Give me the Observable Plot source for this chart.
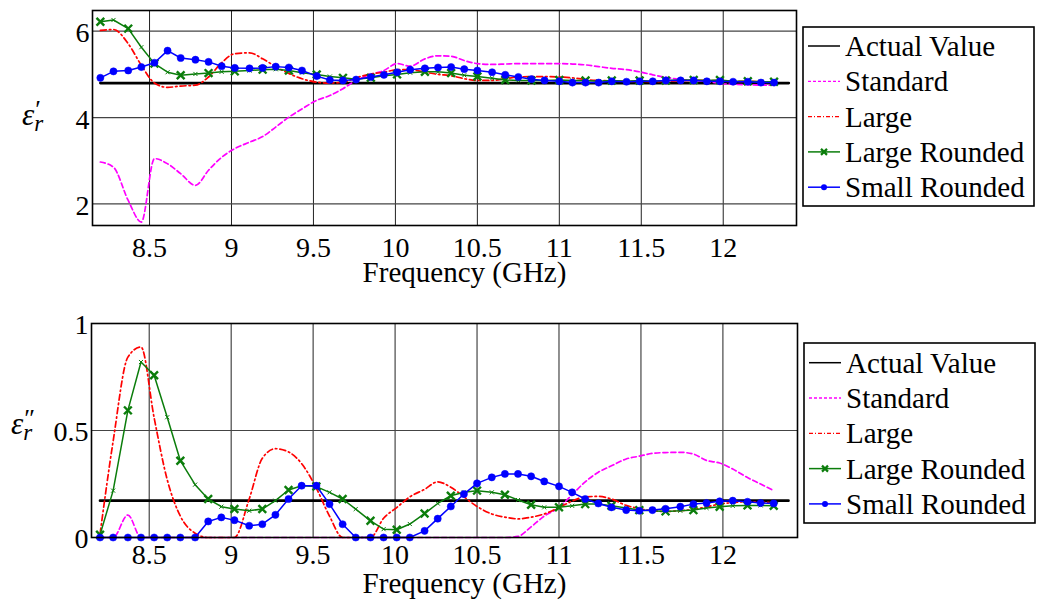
<!DOCTYPE html>
<html><head><meta charset="utf-8">
<script src="https://cdn.jsdelivr.net/npm/d3@7"></script>
<script src="https://cdn.jsdelivr.net/npm/@observablehq/plot@0.6"></script>
<style>
body{margin:0;background:#fff;}
#wrap{position:relative;width:1037px;height:608px;overflow:hidden;background:#fff;}
.panel{position:absolute;left:0;}
#overlay{position:absolute;left:0;top:0;}
</style></head>
<body><div id="wrap"></div>
<script>
// Frequencies (GHz)
const freq = [8.20, 8.28, 8.37, 8.45, 8.53, 8.61, 8.69, 8.78, 8.86, 8.94, 9.02, 9.11, 9.19, 9.27, 9.35, 9.43, 9.52, 9.60, 9.68, 9.76, 9.85, 9.93, 10.01, 10.09, 10.18, 10.26, 10.34, 10.42, 10.50, 10.59, 10.67, 10.75, 10.83, 10.91, 11.00, 11.08, 11.16, 11.24, 11.32, 11.41, 11.49, 11.57, 11.65, 11.74, 11.82, 11.90, 11.98, 12.06, 12.15, 12.23, 12.31];
const actualFreq = [8.2, 12.4];
const xTicks = [8.5, 9, 9.5, 10, 10.5, 11, 11.5, 12];
const seriesNames = ["Actual Value", "Standard", "Large", "Large Rounded", "Small Rounded"];
const xLabel = "Frequency (GHz)";

// Top panel: real part
const actualTop = [4.80, 4.80];
const standardTop = [2.97, 2.85, 2.08, 1.58, 3.05, 2.93, 2.70, 2.43, 2.78, 3.08, 3.28, 3.43, 3.56, 3.78, 4.01, 4.20, 4.40, 4.51, 4.67, 4.86, 5.00, 5.09, 5.25, 5.19, 5.36, 5.43, 5.42, 5.32, 5.25, 5.23, 5.24, 5.25, 5.25, 5.25, 5.25, 5.24, 5.22, 5.18, 5.14, 5.11, 5.06, 4.99, 4.93, 4.88, 4.86, 4.84, 4.79, 4.77, 4.76, 4.75, 4.75];
const largeTop = [6.02, 6.04, 5.71, 5.21, 4.80, 4.70, 4.73, 4.75, 4.94, 5.27, 5.48, 5.50, 5.36, 5.18, 5.02, 4.90, 4.82, 4.80, 4.82, 4.92, 5.01, 5.05, 5.11, 5.11, 5.05, 5.00, 4.97, 4.90, 4.86, 4.86, 4.90, 4.94, 4.95, 4.95, 4.94, 4.92, 4.88, 4.86, 4.85, 4.84, 4.84, 4.83, 4.84, 4.85, 4.86, 4.86, 4.85, 4.84, 4.84, 4.83, 4.82];
const largeRoundedTop = [6.22, 6.26, 6.06, 5.63, 5.25, 5.05, 4.98, 5.01, 5.03, 5.06, 5.07, 5.09, 5.11, 5.12, 5.09, 5.04, 5.00, 4.95, 4.92, 4.89, 4.92, 4.97, 5.00, 5.04, 5.06, 5.06, 5.03, 4.98, 4.95, 4.91, 4.87, 4.86, 4.86, 4.86, 4.87, 4.86, 4.86, 4.84, 4.86, 4.84, 4.86, 4.84, 4.86, 4.87, 4.87, 4.86, 4.87, 4.84, 4.84, 4.83, 4.83];
const smallRoundedTop = [4.92, 5.07, 5.09, 5.17, 5.27, 5.55, 5.38, 5.34, 5.29, 5.19, 5.15, 5.14, 5.15, 5.18, 5.16, 5.09, 4.96, 4.87, 4.86, 4.88, 4.94, 4.99, 5.05, 5.11, 5.14, 5.16, 5.17, 5.12, 5.09, 5.05, 4.99, 4.94, 4.89, 4.86, 4.84, 4.81, 4.81, 4.81, 4.84, 4.83, 4.84, 4.84, 4.86, 4.86, 4.86, 4.84, 4.84, 4.83, 4.83, 4.81, 4.81];
const yTicksTop = [2, 4, 6];

// Bottom panel: imaginary part
const actualBot = [0.172, 0.172];
const standardBot = [0, 0, 0.105, 0, 0, 0, 0, 0, 0, 0, 0, 0, 0, 0, 0, 0, 0, 0, 0, 0, 0, 0, 0, 0, 0, 0, 0, 0, 0, 0, 0, 0.005, 0.05, 0.10, 0.14, 0.20, 0.26, 0.305, 0.335, 0.367, 0.38, 0.393, 0.397, 0.398, 0.39, 0.36, 0.348, 0.32, 0.28, 0.25, 0.219];
const largeBot = [0.016, 0.45, 0.843, 0.89, 0.56, 0.27, 0.10, 0.02, 0, 0, 0, 0.18, 0.37, 0.415, 0.40, 0.345, 0.23, 0.10, 0, 0, 0, 0.09, 0.14, 0.19, 0.225, 0.26, 0.235, 0.19, 0.145, 0.11, 0.095, 0.087, 0.095, 0.11, 0.14, 0.17, 0.19, 0.192, 0.18, 0.15, 0.135, 0.125, 0.122, 0.125, 0.131, 0.143, 0.156, 0.163, 0.167, 0.165, 0.163];
const largeRoundedBot = [0.013, 0.219, 0.594, 0.82, 0.758, 0.562, 0.359, 0.247, 0.180, 0.144, 0.133, 0.125, 0.133, 0.172, 0.222, 0.242, 0.238, 0.211, 0.180, 0.133, 0.078, 0.039, 0.036, 0.063, 0.112, 0.159, 0.195, 0.211, 0.219, 0.211, 0.20, 0.175, 0.153, 0.141, 0.141, 0.148, 0.156, 0.156, 0.148, 0.138, 0.128, 0.125, 0.122, 0.125, 0.128, 0.138, 0.144, 0.148, 0.15, 0.15, 0.148];
const smallRoundedBot = [0, 0, 0, 0, 0, 0, 0, 0, 0.075, 0.094, 0.081, 0.055, 0.062, 0.106, 0.180, 0.242, 0.242, 0.156, 0.062, 0, 0, 0, 0, 0, 0.031, 0.088, 0.145, 0.203, 0.253, 0.281, 0.297, 0.297, 0.286, 0.262, 0.239, 0.211, 0.180, 0.159, 0.141, 0.128, 0.125, 0.128, 0.134, 0.144, 0.156, 0.161, 0.169, 0.172, 0.167, 0.161, 0.159];
const yTicksBot = [0, 0.5, 1];

const colors = {actual: "#000000", standard: "#ff00ff", large: "#ff0000", largeRounded: "#0b7d0b", smallRounded: "#0000ff"};

// ---- pick an installed serif font (reference uses a Times-like face) ----
const ctx = document.createElement("canvas").getContext("2d");
function textWidth(font, size, s) { ctx.font = `${size}px ${font}`; return ctx.measureText(s).width; }
function installed(name) {
  const s = "Frequency (GHz) Actual Value Rounded 0123456789";
  return textWidth(`"${name}", monospace`, 40, s) !== textWidth("monospace", 40, s) ||
         textWidth(`"${name}", sans-serif`, 40, s) !== textWidth("sans-serif", 40, s);
}
const serifCandidates = ["Liberation Serif", "Tinos", "Times New Roman", "Times", "Nimbus Roman", "Nimbus Roman No9 L", "DejaVu Serif", "Noto Serif", "FreeSerif", "Georgia"];
const found = serifCandidates.find(installed);
const FONT = found ? `"${found}", serif` : "serif";
// scale font sizes so the axis title spans the same width as in the reference (~204 px)
const K = Math.max(0.7, Math.min(1.15, 204 / textWidth(FONT, 29, xLabel)));
const FS = 28 * K, FL = 29 * K;

function rows(xs, ys) { return xs.map((x, i) => ({x, y: ys[i], i})); }

function panel(opts) {
  const act = rows(actualFreq, opts.actual);
  const std = rows(freq, opts.standard);
  const lrg = rows(freq, opts.large);
  const lr = rows(freq, opts.largeRounded);
  const sr = rows(freq, opts.smallRounded);
  const fmt = d3.format("~g");
  return Plot.plot({
    width: 800, height: opts.height,
    marginTop: opts.mt, marginBottom: opts.mb, marginLeft: opts.ml, marginRight: opts.mr,
    style: {fontFamily: FONT, fontSize: `${FS}px`, color: "#000", background: "transparent"},
    x: {domain: opts.xDomain},
    y: {domain: opts.yDomain},
    marks: [
      Plot.gridX(xTicks, {stroke: "#222", strokeOpacity: 1, strokeWidth: 1}),
      Plot.gridY(opts.yTicks, {stroke: "#444", strokeOpacity: 1, strokeWidth: 1.2}),
      Plot.line(act, {x: "x", y: "y", stroke: colors.actual, strokeWidth: 2.7}),
      Plot.line(std, {x: "x", y: "y", stroke: colors.standard, strokeWidth: 1.7, strokeDasharray: "5,3", curve: "monotone-x"}),
      Plot.line(lrg, {x: "x", y: "y", stroke: colors.large, strokeWidth: 1.7, strokeDasharray: "6,3,1.5,3", curve: "monotone-x"}),
      Plot.line(lr, {x: "x", y: "y", stroke: colors.largeRounded, strokeWidth: 1.5}),
      Plot.dot(lr.filter(d => d.i % 2 === 0), {x: "x", y: "y", symbol: "times", r: 3.6, stroke: colors.largeRounded, strokeWidth: 2.4}),
      Plot.dot(lr.filter(d => d.i % 2 === 1), {x: "x", y: "y", symbol: "times", r: 2, stroke: colors.largeRounded, strokeWidth: 1}),
      Plot.line(sr, {x: "x", y: "y", stroke: colors.smallRounded, strokeWidth: 1.5}),
      Plot.dot(sr, {x: "x", y: "y", r: 3.6, fill: colors.smallRounded, stroke: colors.smallRounded, strokeWidth: 0.5}),
      Plot.frame({stroke: "#000", strokeWidth: 1.6}),
      Plot.axisX(xTicks, {tickSize: 0, tickPadding: opts.xPad, tickFormat: fmt, label: null, fontSize: FS, fontFamily: FONT}),
      Plot.axisY(opts.yTicks, {tickSize: 0, tickPadding: 3, tickFormat: fmt, label: null, fontSize: FS, dy: 2, fontFamily: FONT}),
      Plot.text([xLabel], {text: d => d, frameAnchor: "bottom", lineAnchor: "bottom", dx: 20, dy: opts.labelDy, fontSize: FL, fill: "#000", fontFamily: FONT})
    ]
  });
}

const wrap = document.getElementById("wrap");

const topChart = panel({height: 300, mt: 10, mb: 75, ml: 92, mr: 4, xDomain: [8.152, 12.447], yDomain: [1.5, 6.48], yTicks: yTicksTop, xPad: 12, labelDy: 56,
  actual: actualTop, standard: standardTop, large: largeTop, largeRounded: largeRoundedTop, smallRounded: smallRoundedTop});
const d1 = document.createElement("div"); d1.className = "panel"; d1.style.top = "0px"; d1.appendChild(topChart); wrap.appendChild(d1);

const botChart = panel({height: 308, mt: 23, mb: 71, ml: 91, mr: 3, xDomain: [8.148, 12.455], yDomain: [0, 1], yTicks: yTicksBot, xPad: 7, labelDy: 55,
  actual: actualBot, standard: standardBot, large: largeBot, largeRounded: largeRoundedBot, smallRounded: smallRoundedBot});
const d2 = document.createElement("div"); d2.className = "panel"; d2.style.top = "300px"; d2.appendChild(botChart); wrap.appendChild(d2);

// Overlay: legends and y labels
const svg = d3.select(wrap).append("svg").attr("id", "overlay").attr("width", 1037).attr("height", 608)
  .attr("font-family", FONT);

const styles = [
  {stroke: colors.actual, dash: null, w: 1.5, marker: null},
  {stroke: colors.standard, dash: "3,2", w: 1.3, marker: null},
  {stroke: colors.large, dash: "4,2,1,2", w: 1.3, marker: null},
  {stroke: colors.largeRounded, dash: null, w: 1.5, marker: "x"},
  {stroke: colors.smallRounded, dash: null, w: 1.5, marker: "o"}
];

function legend(x, y, w, h, base0, step) {
  const g = svg.append("g");
  g.append("rect").attr("x", x).attr("y", y).attr("width", w).attr("height", h)
    .attr("fill", "#fff").attr("stroke", "#000").attr("stroke-width", 1.6);
  seriesNames.forEach((name, k) => {
    const base = base0 + k * step;
    const ly = base - 10;
    const s = styles[k];
    g.append("line").attr("x1", x + 5).attr("x2", x + 37).attr("y1", ly).attr("y2", ly)
      .attr("stroke", s.stroke).attr("stroke-width", s.w).attr("stroke-dasharray", s.dash);
    if (s.marker === "x") {
      const cx = x + 21, r = 3;
      g.append("path").attr("d", `M${cx - r},${ly - r}L${cx + r},${ly + r}M${cx - r},${ly + r}L${cx + r},${ly - r}`)
        .attr("stroke", s.stroke).attr("stroke-width", 2.2);
    } else if (s.marker === "o") {
      g.append("circle").attr("cx", x + 21).attr("cy", ly).attr("r", 3).attr("fill", s.stroke);
    }
    g.append("text").attr("x", x + 42).attr("y", base).attr("font-size", FL).attr("fill", "#000").text(name);
  });
}
legend(803, 27, 231, 179, 56, 35.3);
legend(804, 343, 231, 180, 372.7, 35.3);

// y-axis titles: ε_r with prime / double prime, as one text element each
function ylab(x, y, prime) {
  const t = svg.append("text").attr("x", x).attr("y", y).attr("fill", "#000")
    .attr("font-size", 31 * K).attr("font-style", "italic");
  t.append("tspan").text("ε");
  t.append("tspan").attr("font-size", 23 * K).attr("dy", 6).text("r");
  t.append("tspan").attr("font-size", 26 * K).attr("font-style", "normal").attr("dx", -8).attr("dy", -13).text(prime);
}
ylab(22, 125, "′");
ylab(11, 434, "″");
</script></body></html>
